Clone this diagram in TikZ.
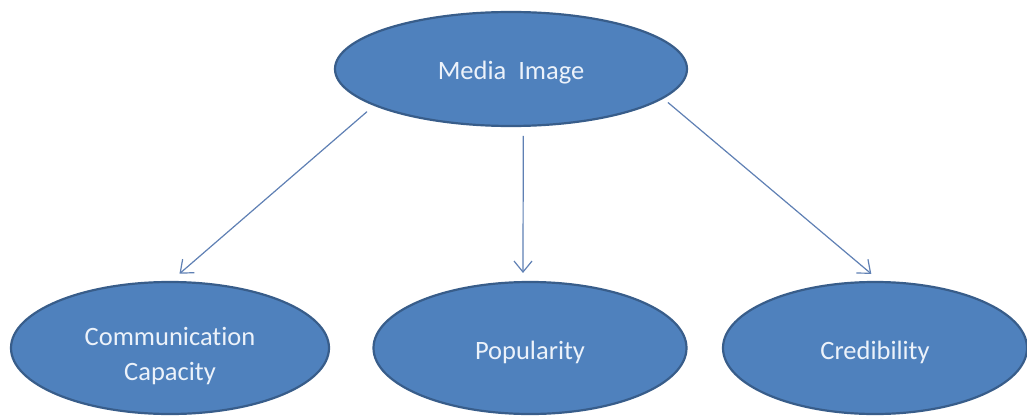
\documentclass[tikz,border=0pt]{standalone}
\usepackage{fontspec}
\setmainfont{Carlito}[Ligatures={NoCommon}]
\usetikzlibrary{arrows.meta,shapes.geometric}
\definecolor{ofill}{RGB}{79,129,189}
\definecolor{oline}{RGB}{56,93,138}
\definecolor{otext}{RGB}{236,242,250}
\definecolor{oarrow}{RGB}{95,128,180}
\tikzset{
  oval/.style={ellipse, draw=oline, fill=ofill, line width=2.2pt, inner sep=0pt,
    text=otext, align=center, font=\fontsize{26.5}{35}\selectfont,
    text height=26pt, text depth=4pt},
  conn/.style={draw=oarrow, line width=1.2pt,
    -{Straight Barb[length=11pt,width=18pt,line width=1.2pt]}}
}
\begin{document}
\begin{tikzpicture}[x=1pt,y=-1pt]
\useasboundingbox (0,0) rectangle (1027,417);
\fill[white] (0,0) rectangle (1027,417);
\node[oval, minimum width=352pt, minimum height=114pt] (top) at (511,69) {Media\ \ Image};
\node[oval, minimum width=318pt, minimum height=132pt, text height=64pt, text depth=0pt] (cl) at (170,348) {Communication\\Capacity};
\node[oval, minimum width=313pt, minimum height=132pt] (cm) at (530,348) {Popularity};
\node[oval, minimum width=304pt, minimum height=132pt] (cr) at (875,348) {Credibility};
\draw[conn, shorten <=9pt, shorten >=11pt] (top.195.5) -- (cl.89);
\draw[conn, shorten <=9pt, shorten >=8pt] (top.-78.3) -- (cm.96);
\draw[conn, shorten <=6pt, shorten >=11pt] (top.-11.2) -- (cr.86.8);
\end{tikzpicture}
\end{document}
